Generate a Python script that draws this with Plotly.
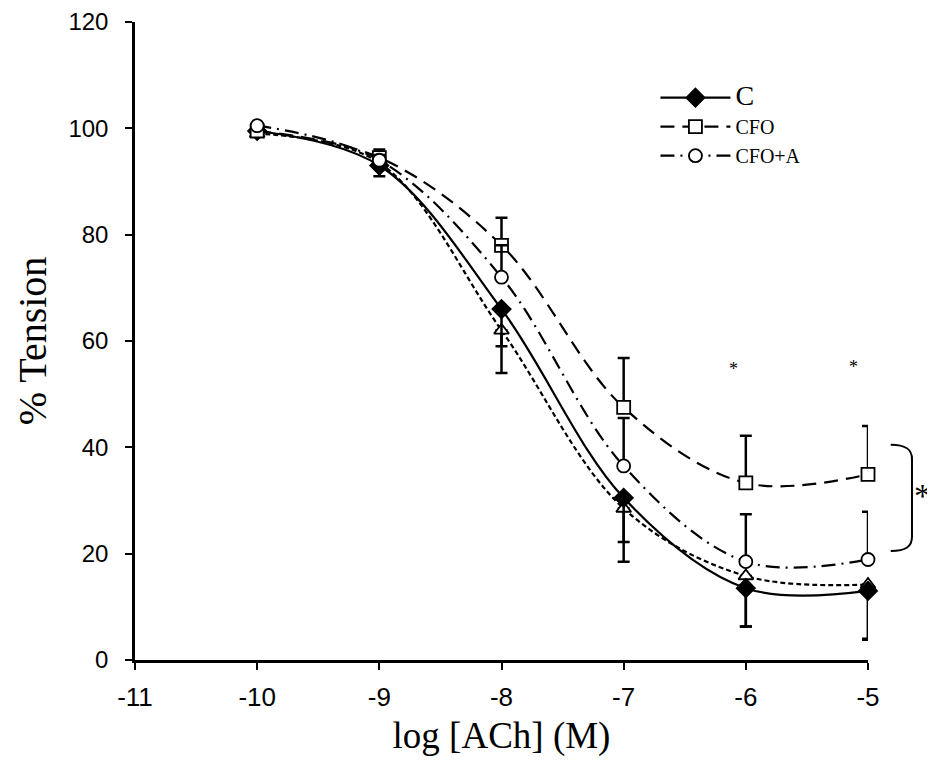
import plotly.graph_objects as go

# ---- data ----
log_ach = [-10, -9, -8, -7, -6, -5]

c_vals = [99.5, 93.0, 66.0, 30.5, 13.5, 13.0]
c_err_minus = [0.0, 2.0, 7.0, 8.3, 7.2, 9.0]

cfo_vals = [99.5, 94.5, 78.0, 47.5, 33.3, 34.9]
cfo_err_plus = [0.0, 1.5, 5.2, 9.3, 8.9, 9.1]

cfoa_vals = [100.5, 94.0, 72.0, 36.5, 18.5, 18.9]
cfoa_err_plus = [0.0, 1.0, 6.0, 9.0, 8.9, 9.0]

tri_vals = [99.0, 93.5, 62.0, 28.5, 15.8, 14.2]
tri_err_minus = [0.0, 1.0, 8.0, 10.0, 9.5, 10.4]

x_ticks = [-11, -10, -9, -8, -7, -6, -5]
y_ticks = [0, 20, 40, 60, 80, 100, 120]

star_x = [-6.1, -5.12]
star_y = [54.8, 55.1]

BLACK = "black"
SERIF = "Liberation Serif"
SANS = "Liberation Sans"

fig = go.Figure()

def add_series(name, vals, symbol, dash, fill, err_plus=None, err_minus=None, show=True, msize=12):
    zeros = [0.0] * len(vals)
    ey = dict(
        type="data", symmetric=False,
        array=err_plus if err_plus is not None else zeros,
        arrayminus=err_minus if err_minus is not None else zeros,
        color=BLACK, thickness=2.5, width=6,
    )
    fig.add_trace(go.Scatter(
        x=log_ach, y=vals, name=name, mode="lines+markers",
        line=dict(color=BLACK, width=2.2, dash=dash, shape="spline", smoothing=1.0),
        marker=dict(symbol=symbol, size=msize, color=fill,
                    line=dict(color=BLACK, width=1.8)),
        error_y=ey, showlegend=show, cliponaxis=False,
    ))

add_series("tri", tri_vals, "triangle-up", "5px,3px", "white", err_minus=tri_err_minus, show=False, msize=13)
add_series('<span style="font-size:28px">C</span>', c_vals, "diamond", "solid", BLACK, err_minus=c_err_minus, msize=14)
add_series("CFO", cfo_vals, "square", "14px,8px", "white", err_plus=cfo_err_plus, msize=13)
add_series("CFO+A", cfoa_vals, "circle", "14px,6px,2px,6px", "white", err_plus=cfoa_err_plus, msize=13)

# significance stars
for sx, sy in zip(star_x, star_y):
    fig.add_annotation(x=sx, y=sy, text="*", showarrow=False,
                       font=dict(family=SERIF, size=18, color=BLACK))

fig.add_annotation(xref="paper", yref="paper", x=1.075, y=0.225, text="*",
                   xanchor="center", showarrow=False,
                   font=dict(family=SERIF, size=34, color=BLACK))

# bracket
fig.add_shape(type="path", xref="paper", yref="paper",
              path="M 1.031 0.3375 C 1.052 0.3375 1.060 0.33 1.060 0.315 "
                   "L 1.060 0.193 C 1.060 0.178 1.052 0.171 1.031 0.171",
              line=dict(color=BLACK, width=2))

fig.update_layout(
    width=927, height=765,
    margin=dict(l=127, r=67, t=14, b=113, autoexpand=False),
    paper_bgcolor="white", plot_bgcolor="white",
    showlegend=True,
    legend=dict(x=0.71, y=0.912, xanchor="left", yanchor="top",
                font=dict(family=SERIF, size=20, color=BLACK),
                bgcolor="rgba(0,0,0,0)", itemwidth=70),
    xaxis=dict(range=[-11, -5], tickvals=x_ticks, ticktext=[str(v) for v in x_ticks],
               automargin=False,
               showgrid=False, zeroline=False, showline=True, linecolor=BLACK, linewidth=2.5,
               ticks="outside", ticklen=7, tickwidth=2, tickcolor=BLACK, ticklabelstandoff=5,
               tickfont=dict(family=SANS, size=26, color=BLACK),
               title=dict(text="log [ACh] (M)", font=dict(family=SERIF, size=37, color=BLACK), standoff=12)),
    yaxis=dict(range=[0, 120], tickvals=y_ticks, automargin=False,
               showgrid=False, zeroline=False, showline=True, linecolor=BLACK, linewidth=2.5,
               ticks="outside", ticklen=7, tickwidth=2, tickcolor=BLACK, ticklabelstandoff=12,
               tickfont=dict(family=SANS, size=24, color=BLACK),
               title=dict(text="% Tension", font=dict(family=SERIF, size=40, color=BLACK), standoff=10)),
)

fig.write_html("out.html")
